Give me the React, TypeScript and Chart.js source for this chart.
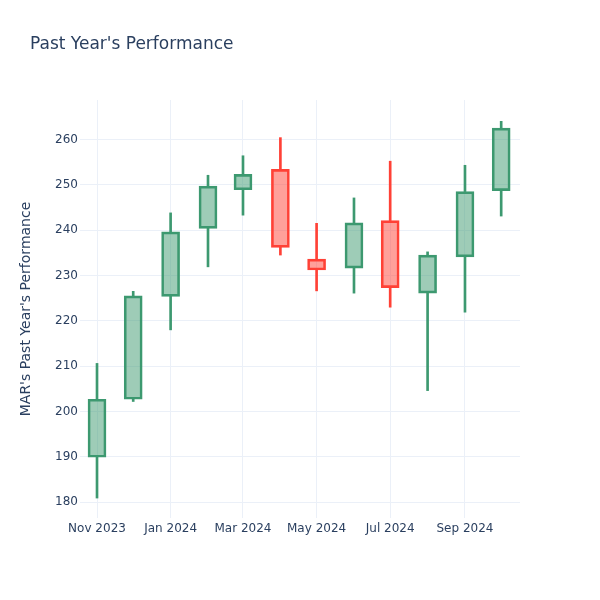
import React, { useEffect, useRef } from "react";
import { Chart, registerables } from "chart.js";

Chart.register(...registerables);

const dates = [
  "2023-11-01", "2023-12-01", "2024-01-01", "2024-02-01", "2024-03-01", "2024-04-01",
  "2024-05-01", "2024-06-01", "2024-07-01", "2024-08-01", "2024-09-01", "2024-10-01",
];
const opens = [189.9, 202.7, 225.4, 240.4, 248.9, 253.4, 233.6, 231.6, 242.1, 226.1, 234.1, 248.7];
const closes = [202.7, 225.5, 239.6, 249.7, 252.3, 236.2, 231.2, 241.6, 227.3, 234.5, 248.5, 262.5];
const highs = [210.6, 226.5, 243.8, 252.1, 256.4, 260.4, 241.5, 247.1, 255.2, 235.2, 254.3, 264.0];
const lows = [180.9, 202.2, 218.0, 231.9, 243.3, 234.5, 226.6, 226.1, 223.0, 204.6, 221.9, 243.1];

const tickDates = ["2023-11-01", "2024-01-01", "2024-03-01", "2024-05-01", "2024-07-01", "2024-09-01"];
const tickLabels = ["Nov 2023", "Jan 2024", "Mar 2024", "May 2024", "Jul 2024", "Sep 2024"];

const UP_LINE = "#3D9970";
const UP_FILL = "rgba(61,153,112,0.5)";
const DOWN_LINE = "#FF4136";
const DOWN_FILL = "rgba(255,65,54,0.5)";
const TEXT = "#2a3f5f";
const GRID = "#EBF0F8";
const FONT = "'DejaVu Sans', Verdana, sans-serif";

const DAY = 86400000;
const BASE = Date.UTC(2023, 10, 1);
const toDay = (s: string) => {
  const [y, m, d] = s.split("-").map(Number);
  return (Date.UTC(y, m - 1, d) - BASE) / DAY;
};
const xs = dates.map(toDay);
const tickXs = tickDates.map(toDay);

const isUp = (i: number) => closes[i] >= opens[i];

export default function App() {
  const ref = useRef<HTMLCanvasElement | null>(null);

  useEffect(() => {
    if (!ref.current) return;
    const lineColor = (ctx: any) => (isUp(ctx.dataIndex) ? UP_LINE : DOWN_LINE);
    const fillColor = (ctx: any) => (isUp(ctx.dataIndex) ? UP_FILL : DOWN_FILL);

    const titlePlugin = {
      id: "plotTitle",
      afterDraw(chart: any) {
        const c = chart.ctx;
        c.save();
        c.fillStyle = TEXT;
        c.font = `17px ${FONT}`;
        c.textAlign = "left";
        c.textBaseline = "middle";
        c.fillText("Past Year's Performance", 30, 45);
        c.restore();
      },
    };

    const chart = new Chart(ref.current, {
      type: "bar",
      data: {
        datasets: [
          {
            label: "lower wick",
            data: xs.map((x, i) => ({ x, y: [lows[i], Math.min(opens[i], closes[i])] })),
            backgroundColor: lineColor,
            borderWidth: 0,
            barThickness: 2,
            grouped: false,
          } as any,
          {
            label: "upper wick",
            data: xs.map((x, i) => ({ x, y: [Math.max(opens[i], closes[i]), highs[i]] })),
            backgroundColor: lineColor,
            borderWidth: 0,
            barThickness: 2,
            grouped: false,
          } as any,
          {
            label: "body",
            data: xs.map((x, i) => ({ x, y: [opens[i], closes[i]] })),
            backgroundColor: fillColor,
            borderColor: lineColor,
            borderWidth: 2,
            borderSkipped: false,
            barThickness: 18,
            grouped: false,
          } as any,
        ],
      },
      options: {
        responsive: false,
        maintainAspectRatio: false,
        animation: false,
        layout: { padding: { left: 0, right: 80, top: 100, bottom: 0 } },
        plugins: {
          legend: { display: false },
          tooltip: { enabled: false },
          title: { display: false },
        },
        scales: {
          x: {
            type: "linear",
            min: -14.1,
            max: 350.6,
            offset: false,
            border: { display: false },
            grid: { color: GRID, lineWidth: 1, drawTicks: false, offset: false },
            afterBuildTicks: (scale: any) => {
              scale.ticks = tickXs.map((v) => ({ value: v }));
            },
            ticks: {
              autoSkip: false,
              maxRotation: 0,
              minRotation: 0,
              padding: 4,
              color: TEXT,
              font: { family: FONT, size: 12 },
              callback: (v: any) => {
                const k = tickXs.indexOf(Number(v));
                return k >= 0 ? tickLabels[k] : "";
              },
            },
            afterFit: (scale: any) => {
              scale.height = 82;
            },
          },
          y: {
            type: "linear",
            min: 176.5,
            max: 268.7,
            border: { display: false },
            grid: { color: GRID, lineWidth: 1, drawTicks: false },
            ticks: {
              stepSize: 10,
              includeBounds: false,
              padding: 2,
              color: TEXT,
              font: { family: FONT, size: 12 },
            },
            title: {
              display: true,
              text: "MAR's Past Year's Performance",
              color: TEXT,
              font: { family: FONT, size: 14 },
              padding: { top: 18, bottom: 0 },
            },
            afterFit: (scale: any) => {
              scale.width = 80;
            },
          },
        },
      } as any,
      plugins: [titlePlugin],
    });
    return () => chart.destroy();
  }, []);

  return (
    <div style={{ position: "fixed", left: 0, top: 0, width: 600, height: 600, background: "#fff" }}>
      <canvas ref={ref} width={600} height={600} style={{ display: "block", width: 600, height: 600 }} />
    </div>
  );
}
